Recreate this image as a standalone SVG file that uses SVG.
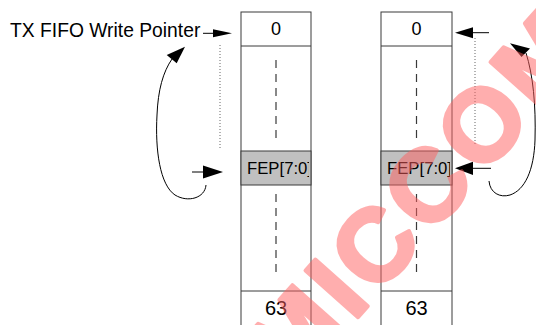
<svg xmlns="http://www.w3.org/2000/svg" width="536" height="325" viewBox="0 0 536 325">
<style>
.box{fill:#fff;stroke:#3a3a3a;stroke-width:1}
.fep{fill:#c0c0c0;stroke:#3a3a3a;stroke-width:1}
.dash{stroke:#3a3a3a;stroke-width:1.2;stroke-dasharray:8,6;fill:none}
.dot{stroke:#666;stroke-width:1;stroke-dasharray:1,2;fill:none}
.ln{stroke:#000;stroke-width:1;fill:none}
.head{fill:#000}
.t{font-family:"Liberation Sans",Arial,sans-serif;fill:#000}
.wm{font-family:"Liberation Sans",Arial,sans-serif;font-weight:bold;fill:#ff6060;stroke:#ff6060;stroke-width:4;stroke-linejoin:round;opacity:0.5;letter-spacing:6px}
</style>
<defs>
<clipPath id="c1"><rect x="241" y="151" width="68" height="34"/></clipPath>
<clipPath id="c2"><rect x="381" y="151" width="69" height="34"/></clipPath>
</defs>
<rect width="536" height="325" fill="#fff"/>
<text class="t" x="10" y="37" font-size="19.3">TX FIFO Write Pointer</text>
<g id="fifo1">
<rect class="box" x="241" y="12" width="70" height="320"/>
<line class="box" x1="241" y1="46" x2="311" y2="46"/>
<rect class="fep" x="241" y="151" width="70" height="34"/>
<line class="box" x1="241" y1="291" x2="311" y2="291"/>
<line class="dash" x1="276" y1="60" x2="276" y2="138"/>
<line class="dash" x1="276" y1="194" x2="276" y2="272"/>
<text class="t" x="276" y="35" font-size="18" text-anchor="middle">0</text>
<text class="t" x="276" y="315" font-size="20" text-anchor="middle">63</text>
<text class="t" x="247" y="173.5" font-size="16" textLength="65" lengthAdjust="spacingAndGlyphs" clip-path="url(#c1)">FEP[7:0]</text>
</g>
<g id="fifo2">
<rect class="box" x="381" y="12" width="71" height="320"/>
<line class="box" x1="381" y1="46" x2="452" y2="46"/>
<rect class="fep" x="381" y="151" width="71" height="34"/>
<line class="box" x1="381" y1="291" x2="452" y2="291"/>
<line class="dash" x1="416.5" y1="60" x2="416.5" y2="138"/>
<line class="dash" x1="416.5" y1="194" x2="416.5" y2="272"/>
<text class="t" x="416.5" y="35" font-size="18" text-anchor="middle">0</text>
<text class="t" x="416.5" y="315" font-size="20" text-anchor="middle">63</text>
<text class="t" x="387" y="173.5" font-size="16" textLength="65" lengthAdjust="spacingAndGlyphs" clip-path="url(#c2)">FEP[7:0]</text>
</g>
<g id="connectors">
<line class="ln" x1="203" y1="33.3" x2="214" y2="33.3"/>
<polygon class="head" points="213,29.3 232,33.3 213,37.3"/>
<line class="ln" x1="192" y1="172" x2="204" y2="172"/>
<polygon class="head" points="203,165.5 223,172 203,178.5"/>
<line class="dot" x1="220" y1="45" x2="220" y2="148"/>
<path class="ln" d="M206,185 C205,198 188,203 175,195 C160,185 155,150 157,115 C158,90 163,72 172,59"/>
<polygon class="head" points="185,46.7 166.7,55 176.7,63.3"/>
<line class="ln" x1="489" y1="32.7" x2="472" y2="32.7"/>
<polygon class="head" points="473,27.3 455,32.7 473,38.3"/>
<line class="ln" x1="491" y1="168.3" x2="472" y2="168.3"/>
<polygon class="head" points="473,161.7 455,168.3 473,175"/>
<line class="dot" x1="475" y1="38" x2="475" y2="145"/>
<path class="ln" d="M489,181 C490,193 500,198 510,195 C525,190 534,170 535,140 C536,105 533,75 526,53"/>
<polygon class="head" points="510,43.3 521.5,57 530,48.5"/>
</g>
<text class="wm" x="446" y="218" font-size="102" text-anchor="middle" transform="rotate(-48.4 446 218)">MICCOM</text>
</svg>
